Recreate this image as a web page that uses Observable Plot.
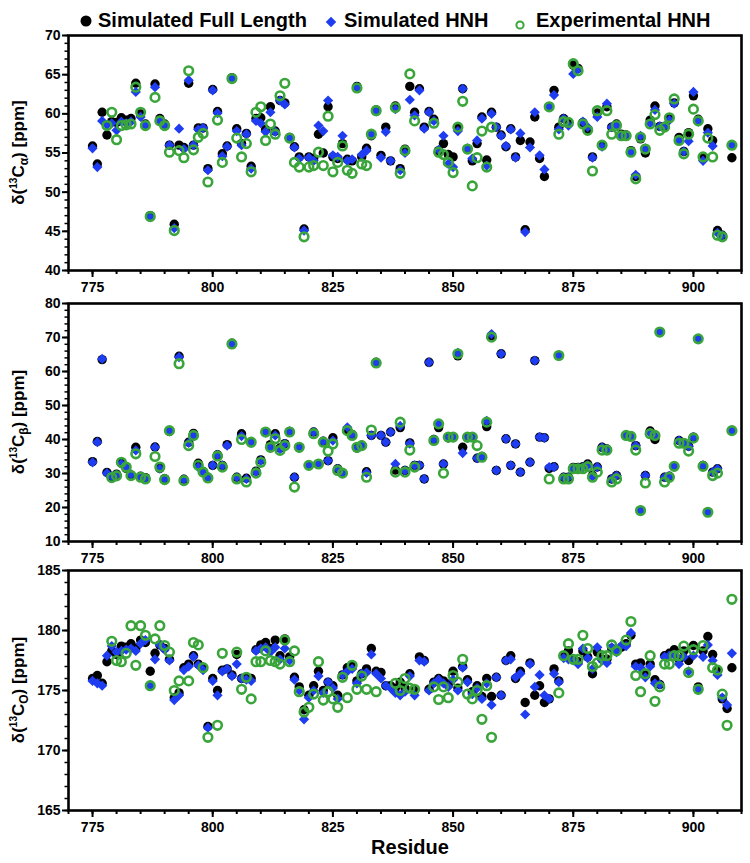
<!DOCTYPE html>
<html><head><meta charset="utf-8">
<script src="https://cdn.jsdelivr.net/npm/d3@7"></script>
<script src="https://cdn.jsdelivr.net/npm/@observablehq/plot@0.6"></script>
<style>
body{margin:0;background:#fff;}
#wrap{position:relative;width:750px;height:863px;overflow:hidden;background:#fff;font-family:"Liberation Sans",Arial,sans-serif;}
#wrap svg{position:absolute;left:0;}
</style></head><body><div id="wrap"></div>
<script>
// ---- data -------------------------------------------------------------
const residueStart = 775, residueEnd = 908;
const residues = d3.range(residueStart, residueEnd + 1);
const xTicks = [775, 800, 825, 850, 875, 900];
const seriesNames = ["Simulated Full Length", "Simulated HNH", "Experimental HNH"];

// C-alpha
const caFull = [
55.9,53.6,60.2,57.3,59.0,58.9,59.5,59.2,59.4,63.9,
60.0,58.7,47.0,63.8,59.4,58.7,56.0,45.9,56.0,55.7,
63.9,56.0,58.2,58.2,53.0,63.1,60.3,54.9,55.9,64.6,
58.1,56.2,57.5,53.3,59.4,59.5,58.0,60.9,57.8,61.7,
61.4,57.0,55.8,54.5,45.3,54.5,54.3,57.4,55.0,60.9,
54.5,54.3,56.2,54.2,54.0,63.5,54.5,55.6,57.2,60.5,
54.7,58.3,54.0,61.0,53.0,55.5,63.5,60.2,63.2,58.3,
60.3,59.3,55.3,56.2,54.8,54.5,58.2,63.2,55.5,54.0,
56.2,59.6,54.1,60.2,58.3,57.3,55.8,58.1,54.5,56.6,
45.2,56.4,59.6,54.3,52.0,60.9,63.0,58.3,59.4,58.8,
66.2,65.8,58.9,58.0,54.5,60.1,56.0,60.9,58.3,58.7,
57.4,57.3,55.3,52.0,56.8,55.0,59.2,61.0,58.4,58.4,
59.4,61.4,57.0,55.2,57.6,62.3,59.3,54.5,58.1,56.6,
45.1,44.5,null,54.4];
const caHnh = [
55.6,53.2,59.1,58.6,58.8,57.9,59.0,58.8,59.0,62.8,
59.6,58.6,46.8,63.4,59.1,58.6,56.0,45.4,58.1,55.5,
64.3,56.0,58.0,58.2,52.8,63.0,60.1,54.6,55.8,64.5,
57.8,56.0,57.4,53.0,59.1,58.8,57.7,60.2,57.7,61.7,
61.2,56.9,55.7,54.3,45.1,54.4,54.0,58.5,57.8,61.7,
54.7,54.5,57.2,54.0,54.2,63.4,54.8,55.3,57.4,60.3,
54.4,57.7,54.0,60.6,52.8,55.0,61.8,59.8,63.0,58.1,
60.2,59.1,55.4,57.2,53.6,53.2,57.8,63.2,55.6,54.3,
56.6,59.4,53.4,60.0,58.3,57.2,55.9,58.0,54.4,57.5,
44.9,55.7,60.2,54.7,52.9,60.9,62.4,58.0,59.4,58.5,
65.1,65.7,59.0,58.3,54.4,59.6,55.8,61.3,58.3,58.5,
57.2,57.2,55.1,52.2,57.2,55.6,58.8,60.5,58.4,58.4,
59.2,61.3,56.6,55.2,56.5,62.8,59.0,54.0,57.6,55.9,
44.8,44.5,null,56.0];
const caExp = [
null,null,null,58.5,60.2,56.7,58.5,58.6,58.7,63.4,
60.2,58.5,46.9,62.1,59.1,58.5,55.1,45.1,55.3,54.4,
65.5,55.4,57.0,57.5,51.3,null,59.2,53.8,null,64.5,
56.9,54.5,56.2,52.6,60.2,60.9,56.6,58.7,57.4,62.3,
63.9,56.9,53.8,53.2,44.3,53.2,53.4,55.1,53.4,59.7,
52.6,53.8,55.9,52.8,52.4,63.3,53.6,53.4,57.4,60.4,
null,null,null,60.8,52.4,55.3,65.1,59.1,null,null,
null,58.8,55.1,54.8,53.8,52.5,58.3,61.6,55.5,50.8,
54.4,57.8,53.2,58.3,null,null,null,null,null,null,
null,null,null,null,null,60.9,null,57.4,59.0,58.9,
66.4,65.5,58.7,57.9,52.7,60.4,56.0,60.4,57.4,58.5,
57.2,57.2,55.1,51.7,57.0,55.5,58.7,59.9,57.9,58.3,
59.5,61.9,56.6,54.9,57.4,60.6,59.1,54.5,56.9,54.5,
44.5,44.3,null,56.0];

// C-beta
const cbFull = [
33.5,39.4,63.5,30.3,29.0,29.8,33.0,31.5,29.5,37.7,
29.2,28.8,null,37.8,31.5,28.5,42.4,null,64.5,28.3,
39.2,41.8,33.0,30.6,28.9,32.4,35.5,32.4,38.5,68.3,
28.9,41.7,28.6,39.2,30.7,34.0,42.2,38.5,41.7,37.5,
38.8,42.4,28.9,37.6,null,32.4,42.2,32.8,39.5,33.8,
40.5,31.4,30.1,42.8,41.5,37.5,38.3,30.5,41.2,62.7,
41.2,39.2,42.2,31.0,43.5,30.9,39.0,32.4,32.4,28.4,
62.7,40.0,43.5,32.8,40.5,40.7,64.6,37.7,40.5,40.7,
34.5,35.0,43.8,70.5,30.9,65.2,40.2,32.4,38.7,30.4,
null,33.3,63.2,40.7,40.5,31.5,32.0,64.7,28.9,28.9,
31.8,31.8,32.0,32.8,29.5,31.9,37.7,37.2,28.4,29.4,
null,41.2,41.0,38.2,19.1,29.4,42.5,40.0,71.6,28.9,
29.2,32.1,39.7,39.0,38.0,40.7,69.6,32.4,18.6,30.4,
31.4,null,null,42.6];
const cbHnh = [
33.3,39.2,63.7,30.1,29.2,29.6,32.8,31.7,29.8,36.8,
29.0,28.6,null,37.7,31.4,28.5,42.4,null,64.2,28.3,
39.0,41.0,31.9,30.4,28.8,32.4,35.5,32.4,38.2,68.1,
28.9,41.0,28.4,39.0,30.5,33.8,42.0,37.5,41.2,37.2,
38.7,42.4,28.9,37.5,null,32.4,42.2,32.8,39.5,33.8,
39.7,31.4,30.1,43.6,41.5,37.5,38.3,30.2,41.2,62.5,
41.2,39.2,42.2,32.8,44.0,30.9,38.8,32.4,32.4,28.4,
62.7,40.0,44.5,32.8,40.5,40.7,65.5,36.0,40.5,40.7,
34.5,35.0,45.5,71.0,30.9,65.2,40.2,32.4,38.7,30.4,
null,33.3,63.2,40.7,40.5,31.9,31.9,64.7,28.9,28.9,
31.6,31.6,31.9,32.4,29.2,31.9,37.7,37.0,28.4,29.4,
null,41.2,40.9,38.2,19.1,29.4,42.0,41.0,71.6,28.9,
29.2,32.1,39.7,38.9,38.0,40.7,69.6,32.4,18.6,30.4,
31.4,null,null,42.6];
const cbExp = [
null,null,null,null,28.8,29.3,33.3,31.9,29.4,35.8,
28.9,28.4,null,35.0,31.9,28.2,42.6,null,62.3,27.9,
38.2,41.2,32.4,30.4,28.7,null,35.1,31.9,null,68.1,
28.4,40.0,27.5,39.2,30.1,33.3,42.2,37.7,40.2,36.8,
38.2,42.2,26.0,37.7,null,32.4,41.7,32.8,39.2,36.6,
38.7,30.9,30.1,42.6,41.2,37.7,38.2,28.9,42.8,62.5,
null,null,null,30.4,45.1,30.4,36.9,31.9,null,null,
null,39.7,44.6,30.1,40.7,40.7,65.2,null,40.7,40.7,
38.2,34.8,45.1,70.1,null,null,null,null,null,null,
null,null,null,null,null,28.4,null,64.7,28.4,28.4,
31.4,31.4,31.4,32.0,28.9,30.4,36.9,36.9,27.5,28.4,
null,41.2,40.9,36.9,19.1,27.2,41.7,41.2,71.6,27.5,
28.9,32.1,38.9,38.9,36.6,40.4,69.6,32.1,18.6,29.4,
30.1,null,null,42.6];

// C' (carbonyl)
const coFull = [
176.0,176.25,175.6,177.4,178.3,178.0,178.7,178.6,178.9,178.5,
179.2,179.0,176.6,178.1,178.8,178.5,177.6,174.4,174.8,176.9,
177.2,177.9,177.2,176.9,172.0,176.0,175.0,176.7,176.8,176.3,
178.0,176.0,176.0,176.0,178.4,178.8,179.0,178.5,179.2,177.9,
179.3,177.8,176.1,175.3,173.4,174.6,175.4,176.6,175.0,175.7,
175.4,174.6,176.3,176.9,177.0,175.8,176.4,176.8,178.5,176.6,
176.5,175.4,175.4,175.2,175.7,175.2,176.4,175.0,177.8,177.5,
175.1,175.7,176.0,175.8,175.5,176.6,175.2,177.0,175.9,174.9,
175.4,174.5,176.0,174.5,176.1,174.6,177.5,177.9,176.0,176.6,
174.0,177.3,174.6,175.4,174.0,174.3,176.8,175.8,177.9,178.3,
177.6,177.4,178.3,177.8,176.4,178.2,177.6,177.6,178.5,178.4,
178.6,178.9,179.6,177.2,177.3,176.3,177.2,175.9,175.5,177.9,
178.1,178.4,177.6,178.3,177.5,178.75,175.3,178.3,179.5,178.0,
176.7,174.3,173.5,176.9];
const coHnh = [
175.8,175.6,175.4,177.9,178.7,178.2,178.3,178.4,178.5,178.3,
178.9,179.2,175.4,177.6,178.8,178.4,177.5,174.2,174.6,176.7,
177.0,177.8,177.1,176.7,171.9,175.8,174.6,176.6,176.8,176.2,
177.2,176.0,175.9,175.8,178.3,178.5,178.6,178.2,178.6,177.6,
178.5,177.5,175.9,175.0,172.6,174.4,175.0,176.2,174.8,175.7,
175.2,174.3,176.3,176.6,176.8,175.6,176.4,176.5,178.0,176.4,
176.0,175.4,175.2,174.8,174.6,174.9,176.2,174.6,177.5,177.4,
175.0,175.6,175.9,175.6,175.3,175.9,175.0,176.9,175.7,174.7,
175.2,174.3,175.6,173.8,176.1,174.6,177.5,177.6,176.1,176.4,
173.0,177.2,175.3,176.3,174.6,174.3,176.4,175.7,177.7,177.6,
177.5,177.2,178.5,177.7,176.8,178.6,177.5,177.3,178.6,178.2,
178.75,178.7,179.8,177.0,176.9,176.1,177.0,175.6,175.5,177.8,
177.9,178.0,177.2,177.8,176.6,177.9,175.1,177.8,178.8,177.5,
176.3,174.4,173.8,178.1];
const coExp = [
null,null,null,null,179.1,177.5,177.4,178.1,180.4,177.1,
180.4,179.6,175.4,179.3,180.4,178.75,178.2,175.0,175.8,null,
175.8,179.0,178.8,176.9,171.1,null,172.1,178.1,null,null,
178.2,175.1,176.1,174.3,177.4,177.4,178.3,177.5,177.4,177.2,
179.2,177.4,178.3,174.9,173.2,173.6,174.7,177.4,174.2,174.9,
174.3,173.6,176.1,174.4,177.1,175.1,176.2,175.1,null,174.9,
null,null,null,175.6,175.0,176.0,175.2,175.1,null,null,
null,175.3,174.25,175.3,174.4,176.25,175.7,177.6,174.7,174.3,
175.0,172.6,175.4,171.1,null,null,null,null,null,null,
null,null,null,null,null,null,null,174.8,177.9,178.9,
177.6,177.6,179.6,178.5,177.0,177.3,177.9,177.9,178.8,178.3,
null,179.2,180.75,176.25,174.9,176.4,177.9,174.1,175.3,177.2,
177.2,177.9,177.9,178.7,176.5,178.4,175.1,178.75,null,176.9,
176.7,174.7,172.1,182.6];

const caTicks = [40, 45, 50, 55, 60, 65, 70];
const cbTicks = [10, 20, 30, 40, 50, 60, 70, 80];
const coTicks = [165, 170, 175, 180, 185];

// ---- drawing ----------------------------------------------------------
const BLUE = "#1e3cf0", GREEN = "#3aa53a";
const FONT = "'Liberation Sans', Arial, Helvetica, sans-serif";
const wrap = document.getElementById("wrap");
const rows = vals => vals.map((v, i) => ({residue: residues[i], value: v})).filter(d => d.value != null);

function panel({full, hnh, exp, ticks, minorStep, top, height, marginTop, marginBottom, sub}) {
  const yDomain = [ticks[0], ticks[ticks.length - 1]];
  const yMinor = d3.range(yDomain[0], yDomain[1] + 1e-9, minorStep);
  const xMinor = d3.range(770, 911, 5);
  const svg = Plot.plot({
    width: 750, height, marginLeft: 68, marginRight: 9, marginTop, marginBottom,
    style: {fontFamily: FONT, fontSize: "14px", fontWeight: "bold", background: "transparent", overflow: "visible", color: "#000"},
    x: {domain: [770, 910]},
    y: {domain: yDomain},
    marks: [
      Plot.axisX(xMinor, {tickSize: 4, strokeWidth: 2, tickFormat: () => "", label: null}),
      Plot.axisX(xTicks, {tickSize: 7, strokeWidth: 2, tickPadding: 5, label: null, tickFormat: d => String(d)}),
      Plot.axisY(yMinor, {tickSize: 3.5, strokeWidth: 1.5, tickFormat: () => "", label: null}),
      Plot.axisY(ticks, {tickSize: 6, strokeWidth: 2, tickPadding: 2, label: null, tickFormat: d => String(d)}),
      Plot.dot(rows(full), {x: "residue", y: "value", r: 4.7, fill: "#000"}),
      Plot.dot(rows(hnh), {x: "residue", y: "value", symbol: "diamond2", r: 4.6, fill: BLUE}),
      Plot.dot(rows(exp), {x: "residue", y: "value", r: 4.3, stroke: GREEN, strokeWidth: 2.6, fill: "none"}),
      Plot.frame({strokeWidth: 2.6})
    ]
  });
  svg.style.top = top + "px";
  const cy = marginTop + (height - marginTop - marginBottom) / 2;
  const t = d3.select(svg).append("text")
    .attr("transform", `translate(24,${cy}) rotate(-90)`)
    .attr("text-anchor", "middle")
    .style("font", `bold 17px ${FONT}`).attr("fill", "#000");
  t.append("tspan").text("δ(");
  t.append("tspan").attr("font-size", "10px").attr("dy", -7).text("13");
  t.append("tspan").attr("dy", 7).text("C");
  t.append("tspan").attr("font-size", "12px").attr("dy", 4).text(sub);
  t.append("tspan").attr("dy", -4).text(") [ppm]");
  wrap.appendChild(svg);
  return svg;
}

panel({full: caFull, hnh: caHnh, exp: caExp, ticks: caTicks, minorStep: 1, top: 0, height: 300, marginTop: 35, marginBottom: 30, sub: "α"});
panel({full: cbFull, hnh: cbHnh, exp: cbExp, ticks: cbTicks, minorStep: 2, top: 300, height: 265, marginTop: 3, marginBottom: 24, sub: "β"});
const last = panel({full: coFull, hnh: coHnh, exp: coExp, ticks: coTicks, minorStep: 1, top: 565, height: 298, marginTop: 5, marginBottom: 53, sub: "O"});
d3.select(last).append("text").attr("x", 410).attr("y", 289)
  .attr("text-anchor", "middle").style("font", `bold 20px ${FONT}`).attr("fill", "#000").text("Residue");

// legend
const leg = d3.select(wrap).append("svg").attr("width", 750).attr("height", 34).style("top", "0px");
const lg = leg.append("g").style("font", `bold 20px ${FONT}`);
lg.append("circle").attr("cx", 86).attr("cy", 21).attr("r", 5.5).attr("fill", "#000");
lg.append("text").attr("x", 98).attr("y", 27).text(seriesNames[0]);
lg.append("path").attr("d", d3.symbol(d3.symbolDiamond2, 70)()).attr("transform", "translate(331,22)").attr("fill", BLUE);
lg.append("text").attr("x", 344).attr("y", 27).text(seriesNames[1]);
lg.append("circle").attr("cx", 520).attr("cy", 25).attr("r", 3.6).attr("fill", "none").attr("stroke", GREEN).attr("stroke-width", 2);
lg.append("text").attr("x", 536).attr("y", 27).text(seriesNames[2]);
</script></body></html>
